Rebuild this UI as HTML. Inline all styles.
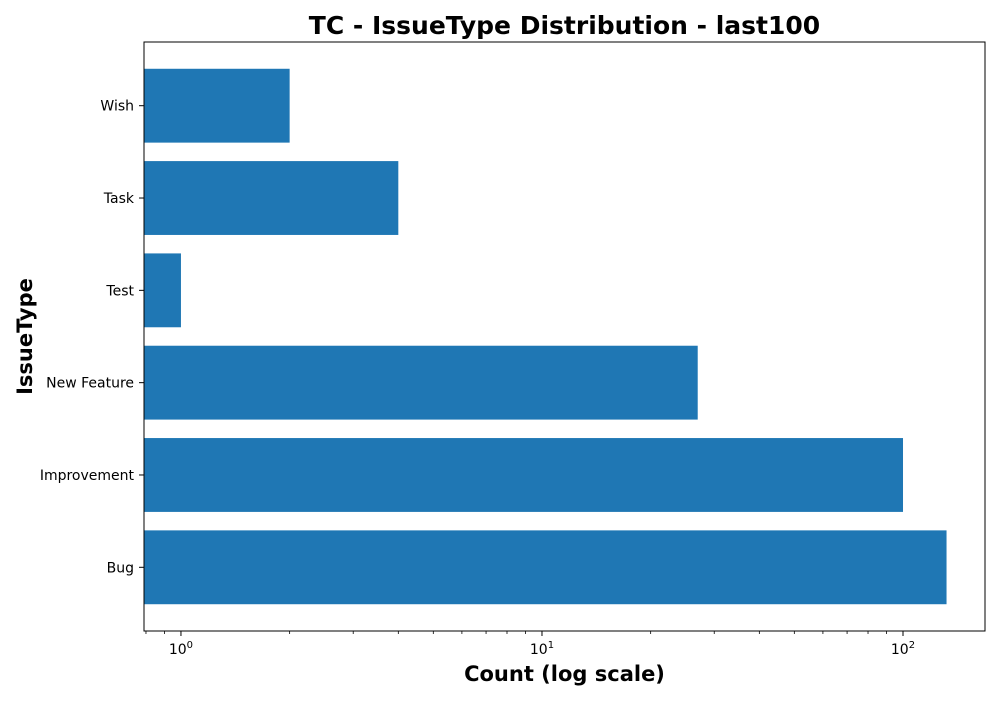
<!DOCTYPE html>
<html><head><meta charset="utf-8"><style>
body{margin:0;background:#fff;width:1000px;height:700px;overflow:hidden}
svg text{font-family:"DejaVu Sans","Liberation Sans",sans-serif}
</style></head><body>
<svg id="chart" width="1000" height="700" xmlns="http://www.w3.org/2000/svg"></svg>
<script>
const categories = ["Bug","Improvement","New Feature","Test","Task","Wish"];
const counts = [132,100,27,1,4,2];
const majorTicks = [1,10,100];
const majorLabels = ["0","1","2"];

const L=144,R=985,T=42,B=631;
const xmin=Math.log10(0.79), xmax=Math.log10(168.7);
function x(v){return L+(Math.log10(v)-xmin)/(xmax-xmin)*(R-L);}
const n=categories.length;
const ylo=-0.4-0.05*(n-0.2), yhi=n-1+0.4+0.05*(n-0.2);
const step=(B-T)/(yhi-ylo);
function yc(i){return B-(i-ylo)*step;}
const svg=document.getElementById('chart');
const NS="http://www.w3.org/2000/svg";
function mk(tag,attrs,parent){const e=document.createElementNS(NS,tag);for(const k in attrs)e.setAttribute(k,attrs[k]);(parent||svg).appendChild(e);return e;}

categories.forEach((c,i)=>{
  const h=step*0.8;
  const r=mk('rect',{x:L,y:yc(i)-h/2,width:x(counts[i])-L,height:h,fill:'#1f77b4'});
  
  
  mk('line',{x1:L-5,x2:L,y1:yc(i),y2:yc(i),stroke:'#000','stroke-width':1});
  const t=mk('text',{x:L-10,y:yc(i)+5,'text-anchor':'end','font-size':14});
  t.textContent=c;
  
  
});
for(let d=-1;d<=2;d++){for(let m=2;m<=9;m++){const v=m*Math.pow(10,d);if(v<0.79||v>168.7)continue;
  mk('line',{x1:x(v),x2:x(v),y1:B,y2:B+3,stroke:'#000','stroke-width':0.8});}}
majorTicks.forEach((v,i)=>{
  mk('line',{x1:x(v),x2:x(v),y1:B,y2:B+5,stroke:'#000','stroke-width':1});
  const t=mk('text',{x:x(v),y:B+23,'text-anchor':'middle','font-size':14});
  
  
  t.appendChild(document.createTextNode('10'));
  const s=mk('tspan',{dy:-6,'font-size':10},t);s.textContent=majorLabels[i];
});
mk('rect',{x:L,y:T,width:R-L,height:B-T,fill:'none',stroke:'#000','stroke-width':1});
let t=mk('text',{x:(L+R)/2,y:34,'text-anchor':'middle','font-size':25,'font-weight':'bold'});
t.textContent='TC - IssueType Distribution - last100';

t=mk('text',{x:(L+R)/2,y:681,'text-anchor':'middle','font-size':21,'font-weight':'bold'});
t.textContent='Count (log scale)';

t=mk('text',{x:0,y:0,'text-anchor':'middle','font-size':21,'font-weight':'bold',transform:'translate(32,'+((T+B)/2)+') rotate(-90)'});
t.textContent='IssueType';

</script>
</body></html>
